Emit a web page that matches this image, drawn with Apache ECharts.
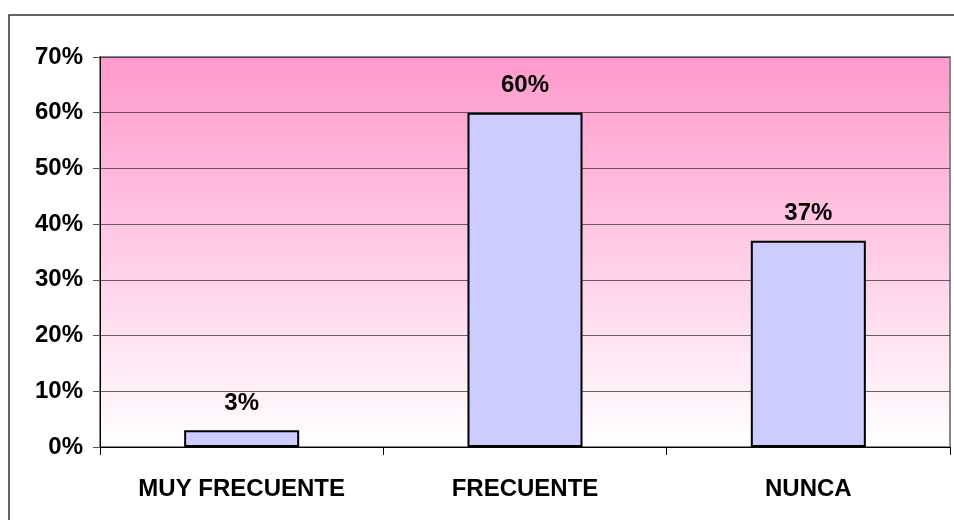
<!DOCTYPE html>
<html>
<head>
<meta charset="utf-8">
<script src="https://cdn.jsdelivr.net/npm/echarts@6/dist/echarts.min.js"></script>
<style>
  html, body { margin: 0; padding: 0; background: #fff; }
  #chart { width: 954px; height: 520px; }
</style>
</head>
<body>
<div id="chart"></div>
<script>
const categories = ['MUY FRECUENTE', 'FRECUENTE', 'NUNCA']
const values = [3, 60, 37]
const yTicks = [0, 10, 20, 30, 40, 50, 60, 70]

const chart = echarts.init(document.getElementById('chart'))
const font = 'Liberation Sans, Arial, sans-serif'

chart.setOption({
    animation: false,
    graphic: [{
        type: 'rect',
        shape: { x: 9, y: 15, width: 1000, height: 600 },
        style: { fill: 'none', stroke: '#333', lineWidth: 1.5 },
        silent: true
    }],
    grid: {
        left: 100,
        right: 4,
        top: 57,
        bottom: 73,
        show: true,
        borderColor: '#888',
        borderWidth: 2,
        backgroundColor: new echarts.graphic.LinearGradient(0, 0, 0, 1, [
            { offset: 0, color: '#ff99cc' },
            { offset: 1, color: '#ffffff' }
        ])
    },
    xAxis: {
        type: 'category',
        data: categories,
        axisLine: { lineStyle: { color: '#000', width: 1 } },
        axisTick: { show: true, length: 8, lineStyle: { color: '#000' } },
        axisLabel: {
            margin: 30,
            fontFamily: font,
            fontWeight: 'bold',
            fontSize: 24,
            color: '#000'
        }
    },
    yAxis: {
        type: 'value',
        min: 0,
        max: 70,
        interval: 10,
        axisLine: { show: true, lineStyle: { color: '#000', width: 1 } },
        axisTick: { show: true, length: 7, lineStyle: { color: '#555' } },
        splitLine: { lineStyle: { color: '#333', width: 1, opacity: 0.75 } },
        axisLabel: {
            margin: 17,
            fontFamily: font,
            fontWeight: 'bold',
            fontSize: 24,
            color: '#000',
            formatter: v => (yTicks.includes(v) ? v + '%' : '')
        }
    },
    series: [{
        type: 'bar',
        data: values,
        barWidth: '40.6%',
        itemStyle: { color: '#ccccff', borderColor: '#000', borderWidth: 2 },
        label: {
            show: true,
            position: 'top',
            distance: 15,
            fontFamily: font,
            fontWeight: 'bold',
            fontSize: 24,
            color: '#000',
            formatter: p => p.value + '%'
        }
    }]
})
</script>
</body>
</html>
